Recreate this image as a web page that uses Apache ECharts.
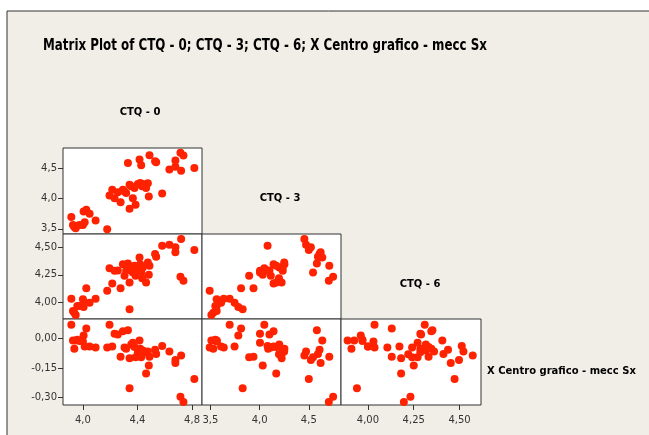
<!DOCTYPE html>
<html>
<head>
<meta charset="utf-8">
<script src="https://cdn.jsdelivr.net/npm/echarts@6/dist/echarts.min.js"></script>
<style>
  html, body { margin: 0; padding: 0; background: #fff; }
  #chart { width: 649px; height: 435px; }
</style>
</head>
<body>
<div id="chart"></div>
<script>
// one value per observation, same order in every array
var ctq0 = [3.915, 3.927, 3.937, 3.947, 3.959, 3.976, 4.000, 4.005, 4.013, 4.025, 4.049, 4.093,
  4.178, 4.195, 4.215, 4.232, 4.256, 4.276, 4.293, 4.305, 4.317, 4.330, 4.342, 4.342, 4.354,
  4.366, 4.378, 4.386, 4.403, 4.415, 4.420, 4.427, 4.434, 4.439, 4.463, 4.476, 4.483, 4.488,
  4.529, 4.537, 4.581, 4.634, 4.678, 4.678, 4.720, 4.715, 4.737, 4.817];
var ctq3 = [3.696, 3.564, 3.530, 3.510, 3.550, 3.564, 3.564, 3.784, 3.609, 3.812, 3.746, 3.636,
  3.493, 4.048, 4.142, 4.004, 4.100, 3.938, 4.142, 4.114, 4.087, 4.582, 4.224, 3.828, 4.200,
  4.004, 4.169, 3.894, 4.235, 4.637, 4.252, 4.543, 4.197, 4.235, 4.169, 4.250, 4.032, 4.708,
  4.609, 4.593, 4.081, 4.472, 4.620, 4.521, 4.455, 4.747, 4.703, 4.500];
var ctq6 = [4.036, 3.925, 3.910, 3.889, 3.970, 3.970, 4.030, 3.961, 4.000, 4.130, 4.000, 4.036,
  4.106, 4.310, 4.172, 4.286, 4.290, 4.130, 4.346, 4.241, 4.286, 4.352, 4.181, 3.940, 4.316,
  4.271, 4.331, 4.241, 4.286, 4.406, 4.346, 4.271, 4.220, 4.316, 4.181, 4.361, 4.250, 4.331,
  4.437, 4.412, 4.512, 4.521, 4.452, 4.497, 4.572, 4.232, 4.196, 4.473];
var xCentro = [0.072, -0.009, -0.052, -0.009, -0.005, -0.012, -0.014, 0.017, -0.040, 0.052, -0.040, -0.045,
  -0.045, 0.072, -0.040, 0.026, 0.021, -0.092, 0.038, -0.045, -0.052, 0.043, -0.100, -0.254, -0.030,
  -0.021, -0.043, -0.095, -0.069, -0.009, -0.052, -0.095, -0.080, -0.060, -0.178, -0.066, -0.138, -0.092,
  -0.057, -0.078, -0.038, -0.066, -0.124, -0.109, -0.086, -0.298, -0.324, -0.207];

// tick labels
var ticks0 = [4.0, 4.4, 4.8];
var ticks3 = [3.5, 4.0, 4.5];
var ticks6 = [4.00, 4.25, 4.50];
var ticksX = [0.00, -0.15, -0.30];

var names = ['CTQ - 0', 'CTQ - 3', 'CTQ - 6', 'X Centro grafico - mecc Sx'];

var chart = echarts.init(document.getElementById('chart'));

var vars = [
  { data: ctq0, min: 3.854, max: 4.873, ticks: ticks0, dec: 1 },
  { data: ctq3, min: 3.415, max: 4.827, ticks: ticks3, dec: 1 },
  { data: ctq6, min: 3.853, max: 4.617, ticks: ticks6, dec: 2 },
  { data: xCentro, min: -0.34, max: 0.101, ticks: ticksX, dec: 2 }
];

var colX = [63, 202, 341];
var colW = [139, 139, 140];
var rowY = [148, 234, 319];
var rowH = [86, 85, 86];

// lower triangle: row r has y = var r+1, columns 0..r have x = var c
var panels = [];
for (var r = 0; r < 3; r++) {
  for (var c = 0; c <= r; c++) {
    panels.push({ r: r, c: c, xv: c, yv: r + 1 });
  }
}

function fmt(dec) {
  return function (v) { return v.toFixed(dec).replace('.', ','); };
}

var labelStyle = { fontSize: 10, color: '#333', fontFamily: 'DejaVu Sans' };

var grids = [], xAxes = [], yAxes = [], series = [];
panels.forEach(function (p, i) {
  grids.push({
    left: colX[p.c], top: rowY[p.r], width: colW[p.c], height: rowH[p.r],
    show: true, backgroundColor: '#fff', borderColor: '#333', borderWidth: 1
  });
  var vx = vars[p.xv], vy = vars[p.yv];
  var bottomRow = p.r === 2, leftCol = p.c === 0;
  xAxes.push({
    type: 'value', gridIndex: i, min: vx.min, max: vx.max, position: 'bottom',
    axisLine: { show: false, onZero: false }, splitLine: { show: false },
    axisTick: { show: bottomRow, length: 5, customValues: vx.ticks, lineStyle: { color: '#333' } },
    axisLabel: Object.assign({ show: bottomRow, margin: 10, customValues: vx.ticks, formatter: fmt(vx.dec) }, labelStyle)
  });
  yAxes.push({
    type: 'value', gridIndex: i, min: vy.min, max: vy.max, position: 'left',
    axisLine: { show: false, onZero: false }, splitLine: { show: false },
    axisTick: { show: leftCol, length: 5, customValues: vy.ticks, lineStyle: { color: '#333' } },
    axisLabel: Object.assign({ show: leftCol, margin: 6, customValues: vy.ticks, formatter: fmt(vy.dec) }, labelStyle)
  });
  series.push({
    type: 'scatter', xAxisIndex: i, yAxisIndex: i,
    symbolSize: 8,
    itemStyle: { color: '#ff2200', opacity: 1 },
    data: vx.data.map(function (v, k) { return [v, vy.data[k]]; })
  });
});

var diagFont = 'bold 10px "DejaVu Sans"';
var graphics = [
  { type: 'rect', shape: { x: 7, y: 11, width: 700, height: 500 },
    style: { fill: '#f1eee7', stroke: '#333', lineWidth: 1 }, z: -10 },
  { type: 'text', x: 265, y: 46, scaleX: 0.88,
    style: { text: 'Matrix Plot of CTQ - 0; CTQ - 3; CTQ - 6; X Centro grafico - mecc Sx',
      font: 'bold 15px "DejaVu Sans Condensed"', fill: '#000', align: 'center', verticalAlign: 'middle' } },
  { type: 'text', x: 140, y: 112, style: { text: names[0], font: diagFont, fill: '#000', align: 'center', verticalAlign: 'middle' } },
  { type: 'text', x: 280, y: 198, style: { text: names[1], font: diagFont, fill: '#000', align: 'center', verticalAlign: 'middle' } },
  { type: 'text', x: 420, y: 284, style: { text: names[2], font: diagFont, fill: '#000', align: 'center', verticalAlign: 'middle' } },
  { type: 'text', x: 487, y: 371, style: { text: names[3], font: diagFont, fill: '#000', align: 'left', verticalAlign: 'middle' } }
];

chart.setOption({
  animation: false,
  backgroundColor: '#fff',
  graphic: graphics,
  grid: grids,
  xAxis: xAxes,
  yAxis: yAxes,
  series: series
});
</script>
</body>
</html>
